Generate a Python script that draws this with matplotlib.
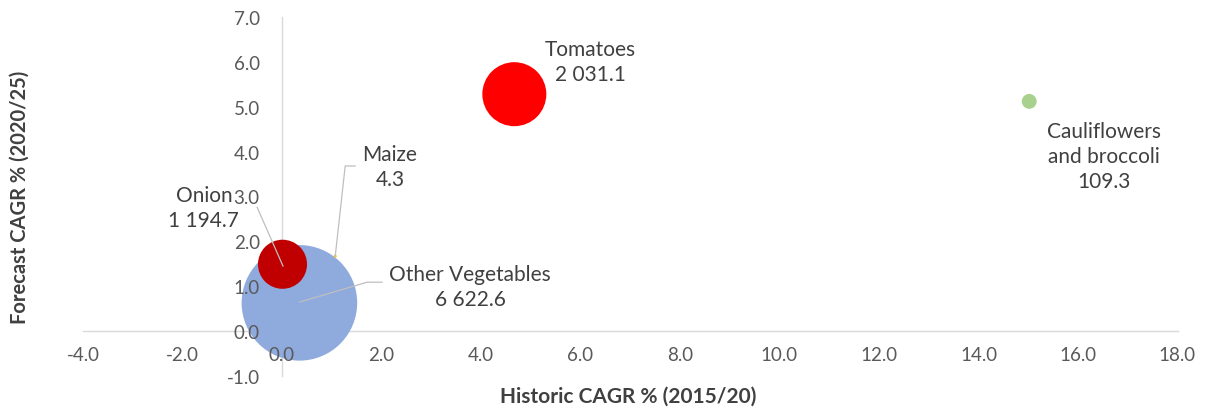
import matplotlib.pyplot as plt
import numpy as np

# data
names = ["Other Vegetables", "Onion", "Maize", "Tomatoes", "Cauliflowers\nand broccoli"]
value_labels = ["6 622.6", "1 194.7", "4.3", "2 031.1", "109.3"]
historic = [0.35, 0.01, 1.07, 4.67, 15.02]   # Historic CAGR % (2015/20)
forecast = [0.63, 1.49, 1.67, 5.28, 5.12]    # Forecast CAGR % (2020/25)
volume = [6622.6, 1194.7, 4.3, 2031.1, 109.3]
colors = ["#8FAADC", "#C00000", "#FFC000", "#FF0000", "#A9D18E"]

x_ticks = np.arange(-4, 18.1, 2)
y_ticks = np.arange(-1, 7.1, 1)

plt.rcParams["font.family"] = ["Lato", "DejaVu Sans"]

fig = plt.figure(figsize=(12.05, 4.10), dpi=100)
ax = fig.add_axes([83 / 1205, 1 - 377 / 410, 1094.5 / 1205, 359 / 410])

# バブルの大きさ (面積 ∝ 値)
dpi = fig.dpi
radius_px = 0.71 * np.sqrt(volume)
sizes = (2 * radius_px * 72 / dpi) ** 2
ax.scatter(historic, forecast, s=sizes, c=colors, edgecolors="none", zorder=3)

ax.set_xlim(-4, 18)
ax.set_ylim(-1, 7)
ax.set_xticks(x_ticks)
ax.set_yticks(y_ticks)
ax.xaxis.set_major_formatter(plt.FormatStrFormatter("%.1f"))
ax.yaxis.set_major_formatter(plt.FormatStrFormatter("%.1f"))

# 軸の書式
for s in ["top", "right"]:
    ax.spines[s].set_visible(False)
ax.spines["left"].set_position(("data", 0))
ax.spines["bottom"].set_position(("data", 0))
for s in ["left", "bottom"]:
    ax.spines[s].set_color("#D9D9D9")
    ax.spines[s].set_linewidth(1.0)
    ax.spines[s].set_zorder(2)
ax.tick_params(axis="both", length=0, labelsize=13.5, labelcolor="#595959")
ax.tick_params(axis="y", pad=16)
ax.tick_params(axis="x", pad=11)
ax.xaxis.set_zorder(4)
ax.yaxis.set_zorder(4)
ax.patch.set_visible(False)

# データラベル
label_pos = [(3.78, 1.0), (-1.57, 2.76), (2.17, 3.66), (6.19, 6.0), (16.52, 3.9)]
for name, val, (lx, ly) in zip(names, value_labels, label_pos):
    ax.text(lx, ly, name + "\n" + val, ha="center", va="center", fontsize=15,
            color="#404040", linespacing=1.3, zorder=5)

# 引き出し線
leaders = [
    ([2.01, 1.71, 0.36], [1.09, 1.09, 0.65]),
    ([-0.50, 0.02], [2.76, 1.45]),
    ([1.47, 1.27, 1.07], [3.68, 3.68, 1.67]),
]
for lx, ly in leaders:
    ax.plot(lx, ly, color="#BFBFBF", lw=0.9, zorder=4)

fig.text(628 / 1205, 1 - 397 / 410, "Historic CAGR % (2015/20)", ha="center", va="center",
         fontsize=15, fontweight="bold", color="#404040")
fig.text(20 / 1205, 1 - 197 / 410, "Forecast CAGR % (2020/25)", ha="center", va="center",
         rotation=90, fontsize=14.5, fontweight="bold", color="#404040")

fig.savefig("out.png", dpi=100)
